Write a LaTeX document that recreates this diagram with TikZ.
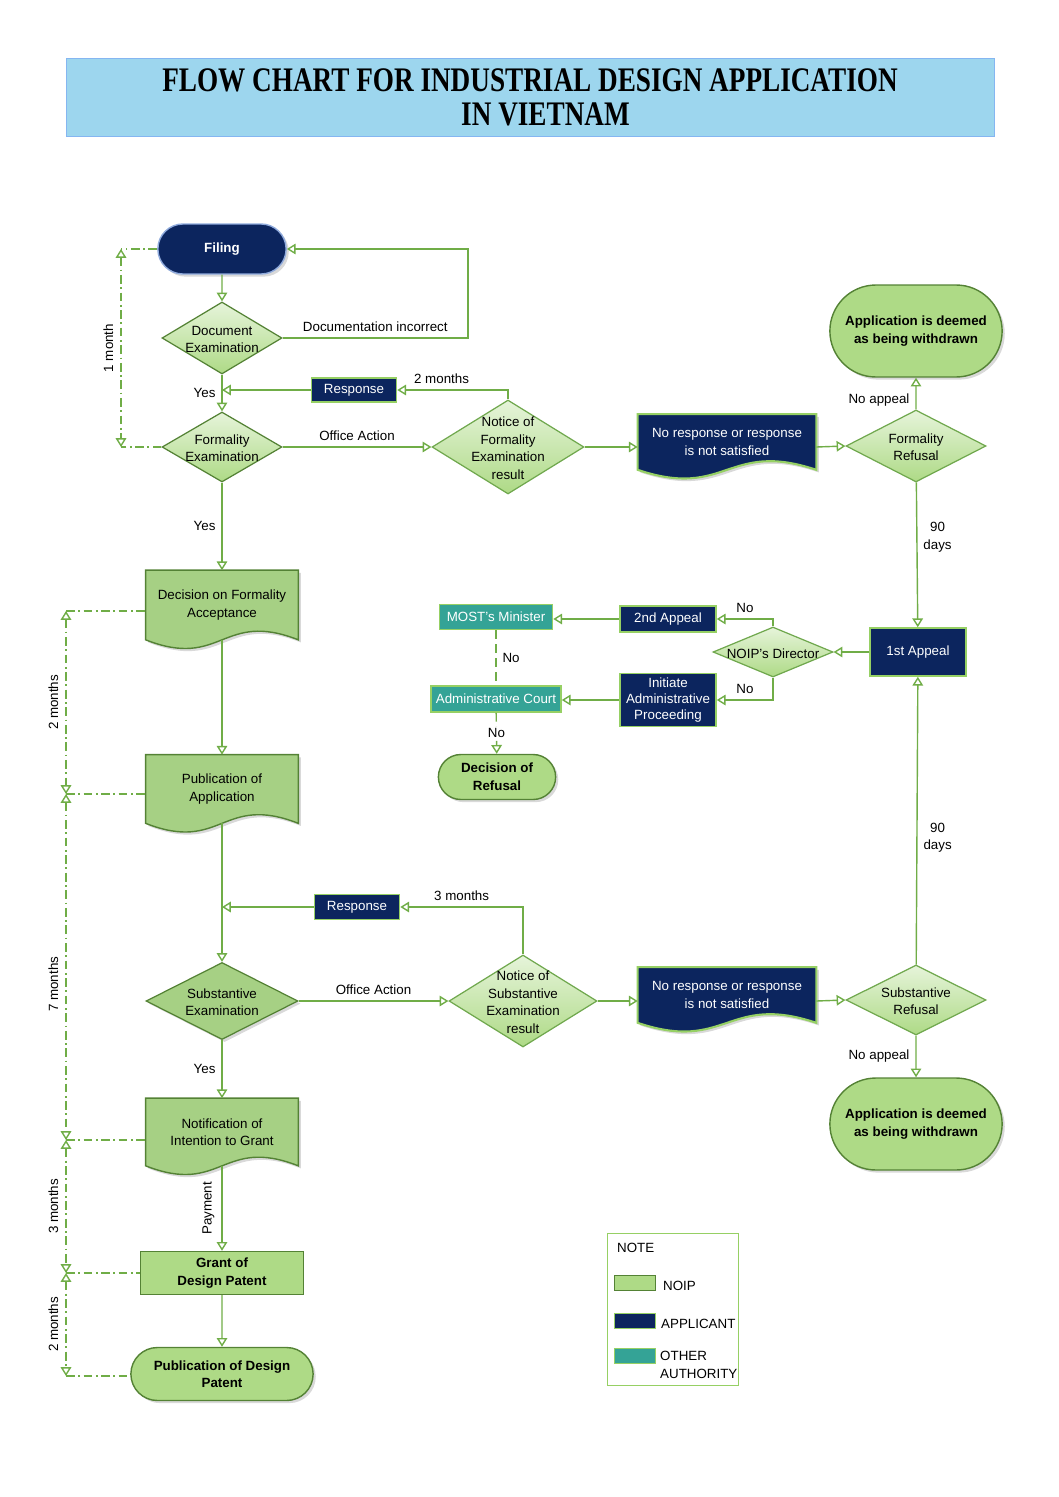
\documentclass[tikz,border=0pt]{standalone}
\usepackage{fontspec}
\setmainfont{Liberation Sans}
\newfontfamily\titlefont[FakeStretch=0.79]{Liberation Serif}
\usepackage{tikz}
\usetikzlibrary{calc, shapes, backgrounds, arrows.meta, shadows, positioning}
\definecolor{navy}{RGB}{12,37,94}
\definecolor{lnk}{RGB}{112,173,71}
\definecolor{dkg}{RGB}{84,130,53}
\definecolor{mdg}{RGB}{112,168,78}
\definecolor{ngreen}{RGB}{174,218,134}
\definecolor{subg}{RGB}{166,208,132}
\definecolor{pale}{RGB}{230,244,218}
\definecolor{tealc}{RGB}{52,163,150}
\definecolor{edg}{RGB}{150,208,100}
\definecolor{skyb}{RGB}{157,214,238}
\definecolor{liteb}{RGB}{143,170,220}

\newcommand{\fnt}{\fontsize{7.6}{10}\selectfont}
% text that does not size the diamond
\newcommand{\dtext}[1]{\makebox[0pt]{\smash{\raisebox{-3.5pt}{\begin{tabular}{@{}c@{}}#1\end{tabular}}}}}
% document shape with wavy bottom
\newcommand{\docshape}[2]{%
  \path[#2] (#1.north west) -- (#1.north east) -- (#1.south east)
    .. controls ($(#1.south east)!0.5!(#1.south west)+(0,-30)$) and ($(#1.south east)!0.5!(#1.south west)+(0,30)$) .. (#1.south west) -- cycle;}

\tikzset{
  line/.style={draw=lnk, line width=0.8pt},
  arr/.style={line, -{Triangle[open, length=5pt, width=6pt]}},
  tline/.style={draw=lnk, line width=0.8pt, dash pattern=on 5pt off 2pt on 1pt off 2pt},
  tarr/.style={tline, {Triangle[open, length=5pt, width=6pt]}-{Triangle[open, length=5pt, width=6pt]}},
  tlab/.style={rotate=90, anchor=south, inner sep=4pt},
  dshadow/.style={drop shadow={opacity=0.3, shadow xshift=1.5pt, shadow yshift=-1.5pt}},
  titlebox/.style={fill=skyb, draw=skyb!85!blue, minimum width=18.56cm, minimum height=1.56cm,
    align=center, font=\titlefont\bfseries\fontsize{19.6}{19.3}\selectfont},
  navybox/.style={rectangle, draw=edg, line width=0.9pt, fill=navy, text=white, inner sep=0pt, align=center},
  tealbox/.style={rectangle, draw=edg, line width=0.9pt, fill=tealc, text=white, inner sep=0pt},
  dia/.style={diamond, draw=mdg, line width=0.7pt, inner sep=0pt},
  gdia/.style={dia, top color=pale, bottom color=ngreen},
  stad/.style={rounded rectangle, draw=dkg, line width=0.8pt, fill=ngreen, font=\fnt\bfseries, align=center, dshadow},
  doc/.style={rectangle, inner sep=0pt, align=center},
}

\begin{document}
\begin{tikzpicture}[x=0.02cm, y=-0.02cm, font=\fnt]
\useasboundingbox (0,0) rectangle (1058,1497);
\node[titlebox] (title) at (530,97) {FLOW CHART FOR INDUSTRIAL DESIGN APPLICATION\\\hspace*{0.9em}IN VIETNAM};

% formality examination
\node[stad, fill=navy, draw=liteb, text=white, minimum width=2.8cm, minimum height=1cm] (filing) at (222,249) {Filing};
\node[gdia, draw=dkg, minimum width=2.4cm, minimum height=1.44cm] (docex) at (222,338) {\dtext{Document\\Examination}};
\node[gdia, draw=dkg, minimum width=2.4cm, minimum height=1.4cm] (formex) at (222,447) {\dtext{Formality\\Examination}};
\node[navybox, minimum width=1.7cm, minimum height=0.48cm] (resp1) at (354,390) {Response};
\node[gdia, minimum width=3.04cm, minimum height=1.88cm] (nfe) at (508,447) {\dtext{Notice of\\Formality\\Examination\\result}};
\node[doc, text=white, minimum width=3.56cm, minimum height=1.1cm] (nores1) at (727,442) {No response or response\\is not satisfied};
\node[gdia, minimum width=2.8cm, minimum height=1.44cm] (frefus) at (916,446) {\dtext{Formality\\Refusal}};
\node[stad, minimum width=3.68cm, minimum height=1.84cm] (wd1) at (916,331) {Application is deemed\\as being withdrawn};
\node[doc, minimum width=3.04cm, minimum height=1.38cm] (dfa) at (222,605) {Decision on Formality\\Acceptance};

% appeal
\node[navybox, minimum width=1.92cm, minimum height=0.96cm] (app1) at (918,652) {1st Appeal};
\node[gdia, minimum width=2.4cm, minimum height=1cm] (nd) at (773,652) {\dtext{NOIP's Director}};
\node[navybox, minimum width=1.92cm, minimum height=0.52cm] (app2) at (668,619) {2nd Appeal};
\node[navybox, font=\fontsize{7.6}{9}\selectfont, minimum width=1.92cm, minimum height=1.06cm] (init) at (668,700) {Initiate\\Administrative\\Proceeding};
\node[tealbox, minimum width=2.26cm, minimum height=0.5cm] (most) at (496,617) {MOST's Minister};
\node[tealbox, minimum width=2.6cm, minimum height=0.52cm] (court) at (496,699) {Administrative Court};
\node[stad, minimum width=2.58cm, minimum height=0.9cm] (refus) at (497,777) {Decision of\\Refusal};

% substantive examination
\node[doc, minimum width=3.04cm, minimum height=1.36cm] (pubapp) at (222,789) {Publication of\\Application};
\node[navybox, minimum width=1.7cm, minimum height=0.5cm] (resp2) at (357,907) {Response};
\node[dia, fill=subg, draw=dkg, dshadow, minimum width=3.04cm, minimum height=1.54cm] (subex) at (222,1001) {\dtext{Substantive\\Examination}};
\node[gdia, minimum width=2.96cm, minimum height=1.84cm] (nse) at (523,1001) {\dtext{Notice of\\Substantive\\Examination\\result}};
\node[doc, text=white, minimum width=3.56cm, minimum height=1.1cm] (nores2) at (727,995) {No response or response\\is not satisfied};
\node[gdia, minimum width=2.8cm, minimum height=1.4cm] (srefus) at (916,1000) {\dtext{Substantive\\Refusal}};
\node[stad, minimum width=3.68cm, minimum height=1.84cm] (wd2) at (916,1124) {Application is deemed\\as being withdrawn};
\node[doc, minimum width=3.04cm, minimum height=1.34cm] (notif) at (222,1132) {Notification of\\Intention to Grant};
\node[rectangle, draw=dkg, fill=ngreen, line width=0.8pt, font=\fnt\bfseries, align=center,
  minimum width=3.26cm, minimum height=0.86cm] (grant) at (222,1273) {Grant of\\Design Patent};
\node[stad, minimum width=3.88cm, minimum height=1.06cm] (pubdes) at (222,1374) {Publication of Design\\Patent};

\begin{scope}[on background layer]
\foreach \d in {dfa, pubapp, notif} {\docshape{\d}{draw=dkg, fill=subg, line width=0.8pt, dshadow}}
\foreach \d in {nores1, nores2} {\docshape{\d}{draw=edg, fill=navy, line width=1.2pt, dshadow}}
\end{scope}

% connectors
\coordinate (dloop) at (468,338);
\draw[arr] (filing) -- (docex);
\draw[arr] (docex.east) -- (dloop) node[midway, above] {Documentation incorrect} |- (filing.east);
\draw[arr] (docex) -- (formex) node[midway, left] {Yes};
\draw[arr] (nfe.north) |- (resp1.east) node[pos=0.8, above] {2 months};
\draw[arr] (resp1.west) -- (resp1.west -| docex.south);
\draw[arr] (formex) -- (nfe) node[midway, above] {Office Action};
\draw[arr] (nfe.east) -- (nfe.east -| nores1.west);
\draw[arr] (nfe.east -| nores1.east) -- (frefus.west);
\draw[arr] (frefus) -- (wd1) node[pos=0.3, left] {No appeal};
\draw[arr] (frefus) -- (app1) node[pos=0.38, right, align=center] {90\\days};
\draw[arr] (formex) -- (dfa) node[midway, left] {Yes};
\draw[arr] (dfa) -- (pubapp);
\draw[arr] (pubapp) -- (subex);
\draw[arr] (nse.north) |- (resp2.east) node[pos=0.75, above] {3 months};
\draw[arr] (resp2.west) -- (resp2.west -| subex.north);
\draw[arr] (subex) -- (nse) node[midway, above] {Office Action};
\draw[arr] (nse.east) -- (nse.east -| nores2.west);
\draw[arr] (nse.east -| nores2.east) -- (srefus.west);
\draw[arr] (srefus) -- (app1) node[pos=0.44, right, align=center] {90\\days};
\draw[arr] (srefus) -- (wd2) node[midway, left] {No appeal};
\draw[arr] (subex) -- (notif) node[midway, left] {Yes};
\draw[arr] (notif) -- (grant) node[midway, tlab] {Payment};
\draw[arr] (grant) -- (pubdes);

% appeal branch
\draw[arr] (app1) -- (nd);
\draw[arr] (nd.north) |- (app2.east) node[pos=0.75, above] {No};
\draw[arr] (nd.south) |- (init.east) node[pos=0.75, above] {No};
\draw[arr] (app2.west) -- (app2.west -| most.east);
\draw[arr] (init.west) -- (init.west -| court.east);
\draw[line, dash pattern=on 5pt off 3pt] (most) -- (court) node[midway, right] {No};
\draw[arr, dash pattern=on 5pt off 3pt] (court) -- (refus) node[midway, fill=white, inner sep=1pt] {No};

% time lines
\coordinate (t1) at (121,249);
\coordinate (t2) at (121,447);
\draw[tline] (filing.west) -- (t1);
\draw[tline] (formex.west) -- (t2);
\draw[tarr] (t1) -- (t2) node[midway, tlab] {1 month};
\foreach \n/\y/\m in {t3/611/dfa, t4/794/pubapp, t5/1140/notif, t6/1273/grant, t7/1376/pubdes}
{\coordinate (\n) at (66,\y);
 \draw[tline] (\n) -- (\n -| \m.west);}
\foreach \a/\b/\t/\p in {t3/t4/2 months/0.5, t4/t5/7 months/0.55, t5/t6/3 months/0.5, t6/t7/2 months/0.5}
\draw[tarr] (\a) -- (\b) node[pos=\p, tlab] {\t};

% note
\node[draw=edg, minimum width=2.62cm, minimum height=3.04cm] (note) at (672.5,1309) {};
\node[anchor=west] (notet) at (611,1248) {NOTE};
\foreach \n/\y/\c/\e in {sw1/1283/ngreen/dkg, sw2/1321/navy/edg, sw3/1356/tealc/edg}
\node[fill=\c, draw=\e, minimum width=0.82cm, minimum height=0.3cm, inner sep=0pt] (\n) at (634.5,\y) {};
\node[anchor=west] (noip) at (657,1286) {NOIP};
\node[anchor=west] (appl) at (655,1324) {APPLICANT};
\node[anchor=west, align=left] (other) at (654,1365) {OTHER\\AUTHORITY};
\end{tikzpicture}
\end{document}
